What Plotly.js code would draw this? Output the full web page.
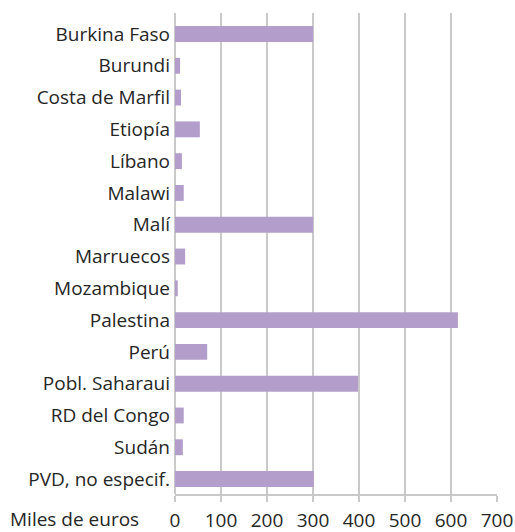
<!DOCTYPE html>
<html>
<head>
<meta charset="utf-8">
<script src="https://cdn.plot.ly/plotly-3.0.1.min.js"></script>
<style>html,body{margin:0;padding:0;background:#fff;}#chart{width:515px;height:532px;}</style>
</head>
<body>
<div id="chart"></div>
<script>
const categories = ["Burkina Faso","Burundi","Costa de Marfil","Etiopía","Líbano","Malawi","Malí","Marruecos","Mozambique","Palestina","Perú","Pobl. Saharaui","RD del Congo","Sudán","PVD, no especif."];
const values = [300, 11, 13, 54, 15, 19, 300, 22, 6, 615, 70, 398, 19, 17, 302];
const xTicks = [0, 100, 200, 300, 400, 500, 600, 700];
const axisLabel = "Miles de euros";

const font = {family: "'Open Sans', Roboto, sans-serif", size: 19, color: "#262626"};
const grid = "#c9c9c9";

Plotly.newPlot("chart", [{
  type: "bar",
  orientation: "h",
  y: categories,
  x: values,
  width: 0.5,
  marker: {color: "#b39ecb"},
  hoverinfo: "none"
}], {
  width: 515, height: 532,
  margin: {l: 175, r: 18, t: 13, b: 38, pad: 0},
  paper_bgcolor: "#fff", plot_bgcolor: "#fff",
  font: font,
  showlegend: false,
  xaxis: {
    range: [0, 700],
    tickvals: xTicks,
    ticktext: xTicks.map(String),
    showgrid: true, gridcolor: grid, gridwidth: 1.5,
    zeroline: true, zerolinecolor: grid, zerolinewidth: 1.5,
    showline: true, linecolor: grid, linewidth: 1.5,
    ticks: "outside", ticklen: 6, tickcolor: grid, tickwidth: 1.5,
    ticklabelstandoff: 3,
    tickfont: font, fixedrange: true
  },
  yaxis: {
    type: "category",
    range: [14.47, -0.66],
    showgrid: false, zeroline: false, showline: false,
    ticks: "", ticklabelstandoff: 4,
    tickfont: font, fixedrange: true
  },
  annotations: [{
    text: axisLabel, showarrow: false,
    xref: "paper", yref: "paper",
    x: -0.1055, y: -0.052, xanchor: "right", yanchor: "middle",
    font: font
  }]
}, {displayModeBar: false, staticPlot: true});
</script>
</body>
</html>
